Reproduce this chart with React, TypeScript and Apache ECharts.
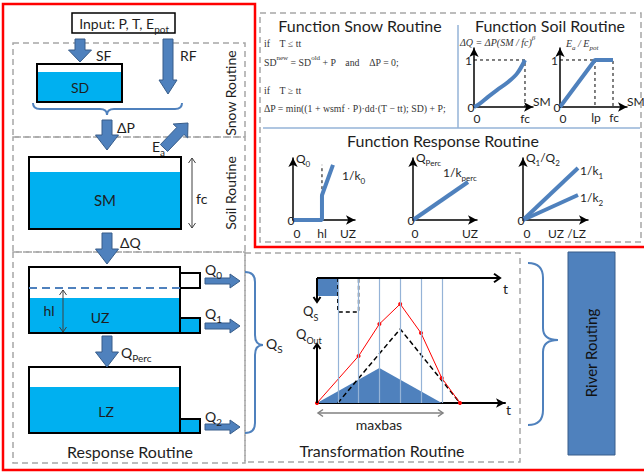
import { useEffect, useRef } from 'react';
import * as echarts from 'echarts';

// ---------- data ----------
const soilRatio = [0, 0.1, 0.27, 0.45, 0.67, 0.85, 1];
const soilDeltaQ = [0, 0.06, 0.21, 0.36, 0.53, 0.72, 1];
const evapSM = [0, 0.66, 1];
const evapRatio = [0, 1, 1];
const q0UZ = [0, 1, 1, 1.38];
const q0Flow = [0, 0, 0.4, 0.89];
const q0Guide = [0.4, 0.89];
const percUZ = [0, 55];
const percFlow = [0, 38];
const linUZ = [0, 55];
const q1Flow = [0, 52];
const q2Flow = [0, 25];
const timeSteps = [1, 2, 3, 4, 5, 6];
const uhT = [0, 3, 6];
const uhQ = [0, 35, 0];
const lagT = [1, 4, 6.875];
const lagQ = [0, 74, 0];
const outT = [0, 2, 3, 4, 5, 6, 6.875];
const outQ = [0, 47, 79, 99, 70, 25, 0];
const qsInT = [0, 1];
const qsIn = 18;
const qsNextT = [1, 2];
const qsNext = 34;
const TRANS_TOP = 125;

const BLUE = '#4F81BD';
const DARKBLUE = '#385D8A';
const WATER = '#00B0F0';
const GRAY = '#A6A6A6';
const LIGHT = '#95B3D7';
const RED = '#FF0000';
const TEXT = '#1e1e1e';
const FONT = 'Lato, "Open Sans", sans-serif';
const SERIF = '"Liberation Serif", "DejaVu Serif", serif';

echarts.graphic.registerShape(
  'braceSnow',
  echarts.graphic.extendPath('M33,103 Q33,109 40,109 L100,109 Q107,109 107,115 Q107,109 114,109 L175,109 Q182,109 182,103', {})
);
echarts.graphic.registerShape(
  'braceQs',
  echarts.graphic.extendPath('M245,272 Q255,272 255,282 L255,335 Q255,345 263,345 Q255,345 255,355 L255,423 Q255,433 245,433', {})
);
echarts.graphic.registerShape(
  'braceRiver',
  echarts.graphic.extendPath('M528,263 Q543,263 543,278 L543,328 Q543,340 558,340 Q543,340 543,352 L543,410 Q543,425 528,425', {})
);

function buildGraphics() {
  const G: any[] = [];
  const rect = (x: number, y: number, w: number, h: number, style: any, z = 2) =>
    G.push({ type: 'rect', shape: { x, y, width: w, height: h }, style, z });
  const line = (x1: number, y1: number, x2: number, y2: number, style: any, z = 3) =>
    G.push({ type: 'line', shape: { x1, y1, x2, y2 }, style, z });
  const poly = (points: number[][], style: any, z = 3) => G.push({ type: 'polyline', shape: { points }, style, z });

  const rich = (x: number, y: number, parts: [string, string][], size: number, o: any = {}) => {
    const text = parts.map(([s, k]) => `{${k}|${s}}`).join('');
    const lh = Math.round(size * 1.6);
    const fam = o.family || FONT;
    const fs = o.italic ? 'italic' : 'normal';
    const col = o.color || TEXT;
    const small = Math.round(size * 0.68);
    G.push({
      type: 'text',
      x,
      y,
      rotation: o.rot || 0,
      z: 20,
      style: {
        text,
        align: o.align || 'left',
        verticalAlign: 'middle',
        rich: {
          b: { fontSize: size, fontFamily: fam, fontStyle: fs, fill: col, lineHeight: lh, verticalAlign: 'middle' },
          s: { fontSize: small, fontFamily: fam, fontStyle: fs, fill: col, verticalAlign: 'bottom' },
          p: { fontSize: small, fontFamily: fam, fontStyle: fs, fill: col, verticalAlign: 'top' },
        },
      },
    });
  };
  const txt = (x: number, y: number, s: string, size: number, o: any = {}) => rich(x, y, [[s, 'b']], size, o);

  const blockArrow = (x0: number, y0: number, x1: number, y1: number, sw: number, hw: number, hl: number) => {
    const dx = x1 - x0, dy = y1 - y0, L = Math.hypot(dx, dy);
    const ux = dx / L, uy = dy / L, nx = -uy, ny = ux;
    const bx = x1 - ux * hl, by = y1 - uy * hl;
    const pts = [
      [x0 + nx * sw, y0 + ny * sw], [bx + nx * sw, by + ny * sw], [bx + nx * hw, by + ny * hw], [x1, y1],
      [bx - nx * hw, by - ny * hw], [bx - nx * sw, by - ny * sw], [x0 - nx * sw, y0 - ny * sw],
    ];
    G.push({ type: 'polygon', shape: { points: pts }, style: { fill: BLUE, stroke: DARKBLUE, lineWidth: 1 }, z: 5 });
  };
  const chevron = (x: number, y: number, ux: number, uy: number, s: number, color: string, w: number) => {
    const nx = -uy, ny = ux;
    poly([[x - ux * s + nx * s * 0.7, y - uy * s + ny * s * 0.7], [x, y], [x - ux * s - nx * s * 0.7, y - uy * s - ny * s * 0.7]],
      { stroke: color, lineWidth: w, fill: null }, 6);
  };
  const dblArrow = (x1: number, y1: number, x2: number, y2: number, color: string, w: number) => {
    line(x1, y1, x2, y2, { stroke: color, lineWidth: w }, 6);
    const L = Math.hypot(x2 - x1, y2 - y1);
    const ux = (x2 - x1) / L, uy = (y2 - y1) / L;
    chevron(x2, y2, ux, uy, 5, color, w);
    chevron(x1, y1, -ux, -uy, 5, color, w);
  };
  const dashedBox = { fill: 'none', stroke: GRAY, lineWidth: 1.5, lineDash: [6, 4] };

  // dashed routine boxes
  rect(13, 43, 232, 94, dashedBox, 1);
  rect(13, 137, 232, 115, dashedBox, 1);
  rect(13, 252, 232, 211, dashedBox, 1);
  rect(245, 253, 275, 209, dashedBox, 1);
  rect(260, 13, 381, 229, dashedBox, 1);

  // input box
  rect(72, 13, 103, 20, { fill: '#fff', stroke: '#000', lineWidth: 1.5 }, 4);
  rich(124, 23, [['Input: P, T, E', 'b'], ['pot', 's']], 14, { align: 'center' });

  // reservoirs
  const reservoir = (x: number, y: number, w: number, h: number, water: number) => {
    rect(x, y, w, h, { fill: '#fff', stroke: null }, 2);
    rect(x, water, w, y + h - water, { fill: WATER, stroke: null }, 3);
    rect(x, y, w, h, { fill: 'none', stroke: '#000', lineWidth: 2 }, 4);
  };
  reservoir(37, 64, 85, 38, 72);
  reservoir(29, 157, 152, 72, 172);
  reservoir(29, 267, 151, 66, 298);
  reservoir(29, 367, 151, 66, 387);
  // outlets
  rect(180, 273, 20, 15, { fill: '#fff', stroke: '#000', lineWidth: 2 }, 4);
  rect(180, 318, 20, 15, { fill: WATER, stroke: '#000', lineWidth: 2 }, 4);
  rect(180, 419, 20, 14, { fill: WATER, stroke: '#000', lineWidth: 2 }, 4);
  // threshold dashed line in UZ
  line(29, 288, 180, 288, { stroke: BLUE, lineWidth: 2, lineDash: [8, 5] }, 5);

  // block arrows
  blockArrow(80, 39, 80, 62, 5, 11.5, 12);
  blockArrow(168, 39, 168, 94, 5, 9, 14);
  blockArrow(107, 120, 107, 150, 5, 11.5, 15);
  blockArrow(164, 148, 188, 123, 5, 10, 11);
  blockArrow(107, 233, 107, 264, 5, 11.5, 15);
  blockArrow(107, 336, 107, 367, 5, 11.5, 15);
  blockArrow(205, 281, 240, 281, 3, 7, 10);
  blockArrow(205, 326, 240, 326, 3, 7, 10);
  blockArrow(205, 427, 240, 427, 3, 7, 10);

  // braces
  G.push({ type: 'braceSnow', style: { fill: 'none', stroke: BLUE, lineWidth: 2 }, z: 5 });
  G.push({ type: 'braceQs', style: { fill: 'none', stroke: BLUE, lineWidth: 2 }, z: 5 });
  G.push({ type: 'braceRiver', style: { fill: 'none', stroke: BLUE, lineWidth: 2 }, z: 5 });

  // double arrows
  dblArrow(192, 158, 192, 228, '#404040', 1);
  dblArrow(63, 290, 63, 332, '#404040', 1);
  dblArrow(318, 413, 443, 413, '#808080', 1.5);

  // left texts
  txt(96, 55, 'SF', 14);
  txt(180, 55, 'RF', 14);
  txt(80, 87, 'SD', 14, { align: 'center' });
  txt(230, 93, 'Snow Routine', 14, { align: 'center', rot: Math.PI / 2 });
  txt(230, 193, 'Soil Routine', 14, { align: 'center', rot: Math.PI / 2 });
  txt(117, 127, 'ΔP', 14);
  rich(152, 146, [['E', 'b'], ['a', 's']], 14);
  txt(105, 200, 'SM', 15, { align: 'center' });
  txt(196, 198, 'fc', 14);
  txt(120, 242, 'ΔQ', 14);
  txt(49, 310, 'hl', 14, { align: 'center' });
  txt(100, 317, 'UZ', 14, { align: 'center' });
  txt(106, 411, 'LZ', 14, { align: 'center' });
  rich(205, 269, [['Q', 'b'], ['0', 's']], 14);
  rich(205, 313, [['Q', 'b'], ['1', 's']], 14);
  rich(205, 416, [['Q', 'b'], ['2', 's']], 14);
  rich(121, 352, [['Q', 'b'], ['Perc', 's']], 14);
  txt(130, 451, 'Response Routine', 16, { align: 'center' });
  rich(266, 343, [['Q', 'b'], ['S', 's']], 14);

  // transformation routine
  line(317, 278, 499, 278, { stroke: '#000', lineWidth: 2 }, 6);
  chevron(500, 278, 1, 0, 6, '#000', 2);
  line(317, 278, 317, 301, { stroke: '#000', lineWidth: 2 }, 6);
  chevron(317, 302, 0, 1, 5, '#000', 2);
  line(317, 403, 317, 345, { stroke: '#000', lineWidth: 2 }, 6);
  chevron(317, 344, 0, -1, 5, '#000', 2);
  txt(503, 288, 't', 14);
  txt(506, 409, 't', 14);
  rich(303, 311, [['Q', 'b'], ['S', 's']], 13);
  rich(296, 334, [['Q', 'b'], ['Out', 's']], 13);
  txt(379, 424, 'maxbas', 14, { align: 'center' });
  txt(382, 450, 'Transformation Routine', 16, { align: 'center' });

  // river routing
  rect(568, 252, 47, 203, { fill: BLUE, stroke: DARKBLUE, lineWidth: 1 }, 3);
  txt(591, 353, 'River Routing', 15, { align: 'center', rot: Math.PI / 2, color: '#111' });

  // function panel
  line(458, 25, 458, 128, { stroke: LIGHT, lineWidth: 1.5 }, 2);
  line(263, 128, 640, 128, { stroke: LIGHT, lineWidth: 1.5 }, 2);
  txt(360, 25, 'Function Snow Routine', 16, { align: 'center' });
  txt(550, 25, 'Function Soil Routine', 16, { align: 'center' });
  txt(443, 140, 'Function Response Routine', 16, { align: 'center' });
  const sf = { family: SERIF, color: '#333' };
  txt(264, 43, 'if    T ≤ tt', 9.8, sf);
  rich(264, 62, [['SD', 'b'], ['new', 'p'], [' = SD', 'b'], ['old', 'p'], [' + P    and    ΔP = 0;', 'b']], 9.8, sf);
  txt(264, 90, 'if    T ≥ tt', 9.8, sf);
  txt(264, 108, 'ΔP = min((1 + wsmf · P)·dd·(T − tt); SD) + P;', 9.8, sf);
  rich(460, 42, [['ΔQ = ΔP(SM / fc)', 'b'], ['β', 'p']], 10, { family: SERIF, italic: true, color: '#333' });
  rich(566, 43, [['E', 'b'], ['a', 's'], [' / E', 'b'], ['pot', 's']], 10, { family: SERIF, italic: true, color: '#333' });
  // soil plot labels
  txt(472, 60, '1', 12, { align: 'right' });
  txt(471, 107, '0', 12, { align: 'center' });
  txt(477, 118, '0', 12, { align: 'center' });
  txt(525, 118, 'fc', 12, { align: 'center' });
  txt(533, 101, 'SM', 12);
  txt(558, 60, '1', 12, { align: 'right' });
  txt(557, 107, '0', 12, { align: 'center' });
  txt(563, 118, '0', 12, { align: 'center' });
  txt(596, 117, 'lp', 12, { align: 'center' });
  txt(614, 117, 'fc', 12, { align: 'center' });
  txt(627, 101, 'SM', 12);
  // response plot labels
  rich(296, 158, [['Q', 'b'], ['0', 's']], 12);
  txt(291, 220, '0', 12, { align: 'center' });
  txt(297, 233, '0', 12, { align: 'center' });
  txt(322, 233, 'hl', 12, { align: 'center' });
  txt(348, 233, 'UZ', 12, { align: 'center' });
  rich(342, 175, [['1/k', 'b'], ['0', 's']], 12);
  rich(416, 157, [['Q', 'b'], ['Perc', 's']], 12);
  txt(411, 220, '0', 12, { align: 'center' });
  txt(415, 233, '0', 12, { align: 'center' });
  txt(470, 233, 'UZ', 12, { align: 'center' });
  rich(443, 172, [['1/k', 'b'], ['perc', 's']], 12);
  rich(526, 157, [['Q', 'b'], ['1', 's'], ['/Q', 'b'], ['2', 's']], 12);
  txt(521, 220, '0', 12, { align: 'center' });
  txt(527, 233, '0', 12, { align: 'center' });
  txt(567, 233, 'UZ /LZ', 12, { align: 'center' });
  rich(580, 170, [['1/k', 'b'], ['1', 's']], 12);
  rich(580, 197, [['1/k', 'b'], ['2', 's']], 12);

  // red outline
  poly([[644, 247], [255, 247], [255, 4], [3, 4], [3, 470], [644, 470]], { stroke: RED, lineWidth: 2.5, fill: null }, 30);
  return G;
}

const axis = (gridIndex: number, max: number, show = true, width = 1.5) => ({
  type: 'value',
  gridIndex,
  min: 0,
  max,
  axisLine: { show, onZero: false, symbol: ['none', 'arrow'], symbolSize: [7, 9], lineStyle: { color: '#000', width } },
  axisTick: { show: false },
  axisLabel: { show: false },
  splitLine: { show: false },
});

const pairs = (xs: number[], ys: number[]) => xs.map((x, i) => [x, ys[i]]);

export default function App() {
  const ref = useRef<HTMLDivElement>(null);
  useEffect(() => {
    document.body.style.margin = '0';
    const chart = echarts.init(ref.current!, null, { renderer: 'svg' });
    const fc = soilRatio[soilRatio.length - 1];
    const one = soilDeltaQ[soilDeltaQ.length - 1];
    const lp = evapSM[1];
    const fcE = evapSM[2];
    const hl = q0UZ[1];
    const ls = (color: string, width: number, type: any = 'solid') => ({ color, width, type });
    const base = { type: 'line', symbol: 'none', silent: true };
    const option: any = {
      animation: false,
      backgroundColor: '#fff',
      grid: [
        { left: 474, top: 48, width: 59, height: 59 },
        { left: 560, top: 48, width: 67, height: 59 },
        { left: 293, top: 158, width: 62, height: 62 },
        { left: 413, top: 158, width: 64, height: 62 },
        { left: 523, top: 158, width: 65, height: 62 },
        { left: 317, top: 278, width: 188, height: 125 },
      ],
      xAxis: [axis(0, 1.157), axis(1, 1.264), axis(2, 2.14), axis(3, 64), axis(4, 65), axis(5, 9.04, true, 2)],
      yAxis: [axis(0, 1.255), axis(1, 1.255), axis(2, 1), axis(3, 62), axis(4, 62), axis(5, TRANS_TOP, false)],
      series: [
        { ...base, xAxisIndex: 0, yAxisIndex: 0, data: [[0, one], [fc, one], [fc, 0]], lineStyle: ls('#000', 1, [3, 3]), z: 2 },
        { ...base, xAxisIndex: 0, yAxisIndex: 0, data: pairs(soilRatio, soilDeltaQ), smooth: 0.35, lineStyle: ls(BLUE, 4), z: 3 },
        { ...base, xAxisIndex: 1, yAxisIndex: 1, data: [[0, one], [fcE, one], [fcE, 0]], lineStyle: ls('#000', 1, [3, 3]), z: 2 },
        { ...base, xAxisIndex: 1, yAxisIndex: 1, data: [[lp, one], [lp, 0]], lineStyle: ls('#000', 1, [3, 3]), z: 2 },
        { ...base, xAxisIndex: 1, yAxisIndex: 1, data: pairs(evapSM, evapRatio), lineStyle: ls(BLUE, 4), z: 3 },
        { ...base, xAxisIndex: 2, yAxisIndex: 2, data: [[hl, q0Guide[0]], [hl, q0Guide[1]]], lineStyle: ls('#000', 1, [3, 3]), z: 2 },
        { ...base, xAxisIndex: 2, yAxisIndex: 2, data: pairs(q0UZ, q0Flow), lineStyle: ls(BLUE, 4), z: 3 },
        { ...base, xAxisIndex: 3, yAxisIndex: 3, data: pairs(percUZ, percFlow), lineStyle: ls(BLUE, 4), z: 3 },
        { ...base, xAxisIndex: 4, yAxisIndex: 4, data: pairs(linUZ, q1Flow), lineStyle: ls(BLUE, 4), z: 3 },
        { ...base, xAxisIndex: 4, yAxisIndex: 4, data: pairs(linUZ, q2Flow), lineStyle: ls(BLUE, 4), z: 3 },
        {
          ...base, xAxisIndex: 5, yAxisIndex: 5, data: [], z: 1,
          markLine: {
            silent: true, symbol: ['none', 'none'], label: { show: false },
            lineStyle: { color: LIGHT, width: 1.2, type: 'solid' },
            data: timeSteps.map((t) => ({ xAxis: t })),
          },
        },
        { ...base, xAxisIndex: 5, yAxisIndex: 5, data: pairs(uhT, uhQ), lineStyle: { width: 0 }, areaStyle: { color: BLUE, opacity: 1 }, z: 2 },
        { ...base, xAxisIndex: 5, yAxisIndex: 5, data: qsInT.map((t) => [t, TRANS_TOP - qsIn]), lineStyle: { width: 0 }, areaStyle: { color: BLUE, opacity: 1, origin: 'end' }, z: 2 },
        {
          ...base, xAxisIndex: 5, yAxisIndex: 5,
          data: [[qsNextT[0], TRANS_TOP], [qsNextT[0], TRANS_TOP - qsNext], [qsNextT[1], TRANS_TOP - qsNext], [qsNextT[1], TRANS_TOP]],
          lineStyle: ls('#000', 1.5, [4, 3]), z: 3,
        },
        { ...base, xAxisIndex: 5, yAxisIndex: 5, data: pairs(lagT, lagQ), lineStyle: ls('#000', 1.5, [5, 3]), z: 3 },
        {
          type: 'line', silent: true, xAxisIndex: 5, yAxisIndex: 5, data: pairs(outT, outQ),
          symbol: 'circle', symbolSize: 4, itemStyle: { color: RED }, lineStyle: ls(RED, 1), z: 4,
        },
      ],
      graphic: buildGraphics(),
    };
    chart.setOption(option);
    return () => chart.dispose();
  }, []);
  return <div ref={ref} style={{ width: 644, height: 472 }} />;
}
